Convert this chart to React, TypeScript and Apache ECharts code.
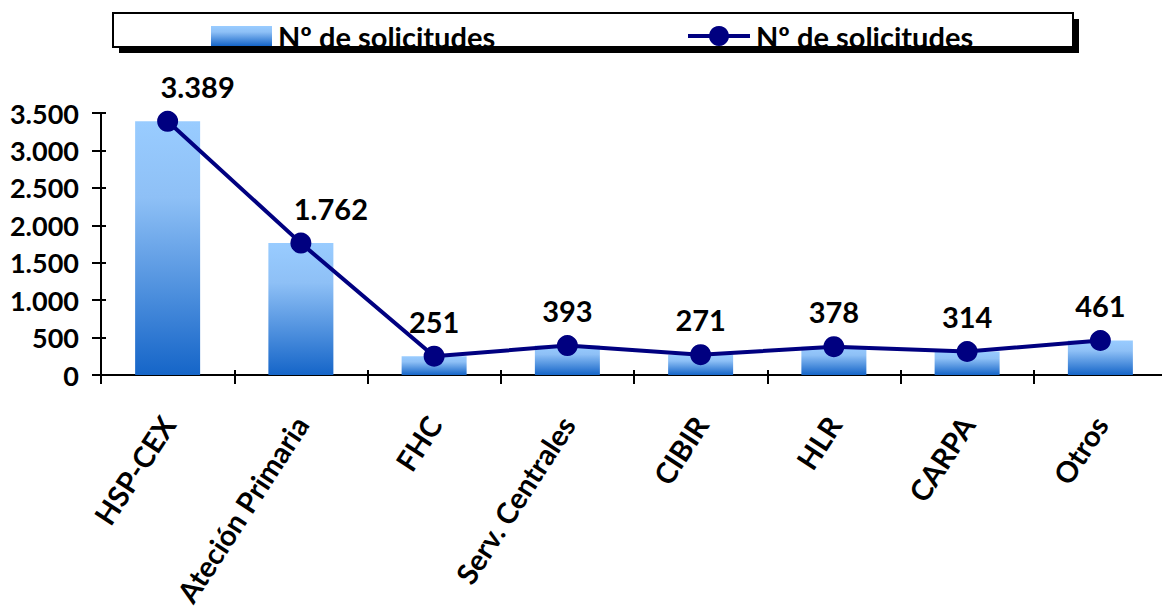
import React, { useEffect, useRef } from "react";
import * as echarts from "echarts";

const categories = [
  "HSP-CEX",
  "Ateción Primaria",
  "FHC",
  "Serv. Centrales",
  "CIBIR",
  "HLR",
  "CARPA",
  "Otros",
];
const solicitudes = [3389, 1762, 251, 393, 271, 378, 314, 461];
const seriesName = "Nº de solicitudes";
const yMin = 0;
const yMax = 3500;
const yInterval = 500;

const FONT = "Lato";
const NAVY = "#000080";

function fmt(v: number): string {
  return String(v).replace(/\B(?=(\d{3})+(?!\d))/g, ".");
}

function barGradient() {
  return new echarts.graphic.LinearGradient(0, 0, 0, 1, [
    { offset: 0, color: "#99CCFF" },
    { offset: 0.3, color: "#8EC0F6" },
    { offset: 1, color: "#1565C8" },
  ]);
}

export default function App() {
  const ref = useRef<HTMLDivElement>(null);

  useEffect(() => {
    if (!ref.current) return;
    const chart = echarts.init(ref.current, undefined, { renderer: "svg" });
    const gridLeft = 101;
    const gridRight = -5;
    const gridTop = 113;
    const gridBottom = 237;
    const plotW = 1162 - gridLeft - gridRight;
    const plotH = 612 - gridTop - gridBottom;

    const option: any = {
      animation: false,
      backgroundColor: "#ffffff",
      textStyle: { fontFamily: FONT },
      grid: {
        left: gridLeft,
        right: gridRight,
        top: gridTop,
        bottom: gridBottom,
        containLabel: false,
        outerBoundsMode: "none",
      },
      xAxis: [
        {
          type: "category",
          data: categories,
          axisLine: { show: true, lineStyle: { color: "#000", width: 2 } },
          axisTick: { show: true, length: 9, lineStyle: { color: "#000", width: 2 } },
          axisLabel: {
            interval: 0,
            rotate: 57,
            margin: 44,
            color: "#000",
            fontSize: 29,
            fontWeight: "bold",
            fontFamily: FONT,
          },
          splitLine: { show: false },
        },
        {
          type: "category",
          data: categories,
          position: "top",
          offset: -plotH,
          axisLine: { show: false },
          axisTick: { show: true, length: 5, lineStyle: { color: "#000", width: 2 } },
          axisLabel: { show: false },
          splitLine: { show: false },
        },
      ],
      yAxis: [
        {
          type: "value",
          min: yMin,
          max: yMax,
          interval: yInterval,
          axisLine: { show: true, lineStyle: { color: "#000", width: 2 } },
          axisTick: { show: true, length: 9, lineStyle: { color: "#000", width: 2 } },
          axisLabel: {
            margin: 22,
            color: "#000",
            fontSize: 27,
            fontWeight: "bold",
            fontFamily: FONT,
            formatter: (v: number) => fmt(v),
          },
          splitLine: { show: false },
        },
        {
          type: "value",
          position: "right",
          offset: -plotW,
          min: yMin,
          max: yMax,
          interval: yInterval,
          axisLine: { show: false },
          axisTick: { show: true, length: 5, lineStyle: { color: "#000", width: 2 } },
          axisLabel: { show: false },
          splitLine: { show: false },
        },
      ],
      series: [
        {
          name: seriesName,
          type: "bar",
          data: solicitudes,
          barWidth: 65,
          itemStyle: { color: barGradient() },
        },
        {
          name: seriesName,
          type: "line",
          data: solicitudes.map((v) =>
            v >= 1000 ? { value: v, label: { offset: [30, 0] } } : v
          ),
          symbol: "circle",
          symbolSize: 21,
          lineStyle: { color: NAVY, width: 4 },
          itemStyle: { color: NAVY },
          label: {
            show: true,
            position: "top",
            distance: 10,
            color: "#000",
            fontSize: 29,
            fontWeight: "bold",
            fontFamily: FONT,
            formatter: (p: any) => fmt(p.value),
          },
          z: 3,
        },
      ],
      graphic: [
        {
          type: "rect",
          shape: { x: 119, y: 19, width: 960, height: 34 },
          style: { fill: "#000" },
          z: 10,
        },
        {
          type: "rect",
          shape: { x: 113, y: 13, width: 960, height: 34 },
          style: { fill: "#fff", stroke: "#000", lineWidth: 2 },
          z: 11,
        },
        {
          type: "rect",
          shape: { x: 211, y: 26, width: 61, height: 20 },
          style: { fill: barGradient() },
          z: 12,
        },
        {
          type: "text",
          x: 278,
          y: 36,
          style: {
            text: seriesName,
            fill: "#000",
            font: `bold 29px ${FONT}`,
            verticalAlign: "middle",
            align: "left",
          },
          z: 12,
        },
        {
          type: "line",
          shape: { x1: 688, y1: 36, x2: 750, y2: 36 },
          style: { stroke: NAVY, lineWidth: 4 },
          z: 12,
        },
        {
          type: "circle",
          shape: { cx: 719, cy: 36, r: 10 },
          style: { fill: NAVY },
          z: 12,
        },
        {
          type: "text",
          x: 756,
          y: 36,
          style: {
            text: seriesName,
            fill: "#000",
            font: `bold 29px ${FONT}`,
            verticalAlign: "middle",
            align: "left",
          },
          z: 12,
        },
      ],
    };
    chart.setOption(option);
    return () => chart.dispose();
  }, []);

  return (
    <div
      ref={ref}
      style={{ position: "fixed", left: 0, top: 0, width: 1162, height: 612 }}
    />
  );
}
